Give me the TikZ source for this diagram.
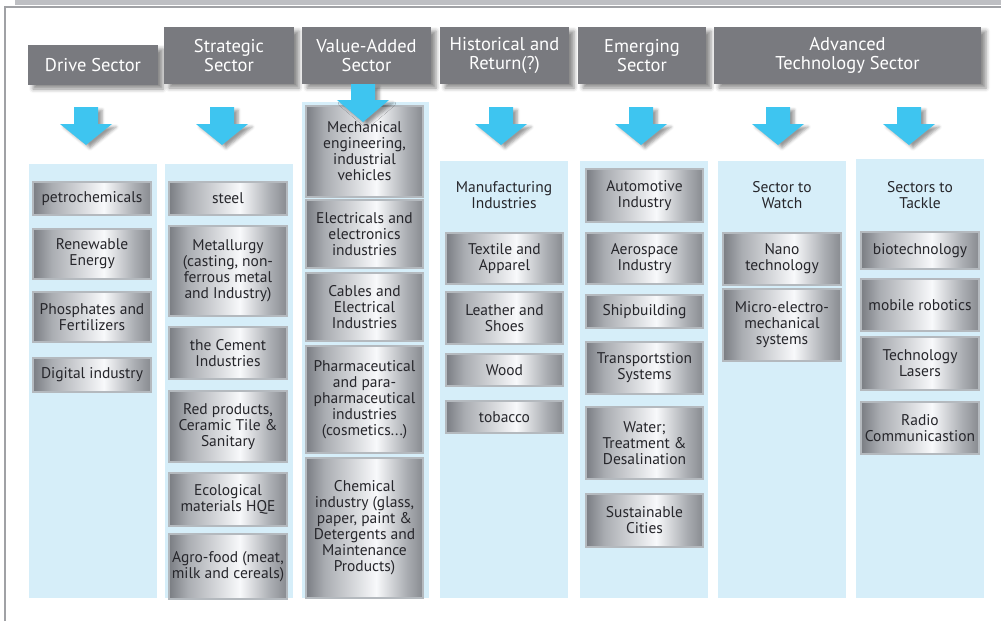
\documentclass[tikz,border=0pt]{standalone}
\usepackage{fontspec}
\setmainfont{PT Sans}
\usetikzlibrary{shadows.blur}
\definecolor{hdr}{RGB}{121,122,127}
\definecolor{pnl}{RGB}{214,238,249}
\definecolor{arr}{RGB}{62,197,240}
\definecolor{mdk}{RGB}{122,125,131}
\definecolor{mmd}{RGB}{170,173,178}
\definecolor{mlt}{RGB}{248,249,251}
\definecolor{mrt}{RGB}{136,139,144}
\definecolor{mbd}{RGB}{180,185,190}
\definecolor{txt}{RGB}{38,38,43}
\definecolor{topbar}{RGB}{190,191,195}
\definecolor{framec}{RGB}{160,161,165}
\pgfdeclarehorizontalshading{metal}{100bp}{color(0bp)=(mdk); color(25bp)=(mdk); color(33bp)=(mmd); color(55bp)=(mlt); color(68bp)=(mmd); color(75bp)=(mrt); color(100bp)=(mrt)}
\tikzset{
  metalbox/.style={shading=metal, draw=mbd, line width=1.6pt, inner sep=0pt, align=center,
    font=\fontsize{15.5}{16}\selectfont, text=txt},
  hdrbox/.style={fill=hdr, text=white, inner sep=0pt, align=center,
    font=\fontsize{18.5}{19}\selectfont,
    blur shadow={shadow xshift=5pt, shadow yshift=-4pt, shadow blur radius=4pt, shadow opacity=45}},
  panelbox/.style={fill=pnl, inner sep=0pt},
  plabel/.style={align=center, font=\fontsize{15.5}{16}\selectfont, text=txt, inner sep=0pt},
  bluearr/.style={fill=arr, blur shadow={shadow xshift=4pt, shadow yshift=-3pt, shadow blur radius=3pt, shadow opacity=40}}
}
\newcommand\rectnode[7]{% style, name, x1, y1, x2, y2, text
  \pgfmathsetmacro\rnw{#5-#3}\pgfmathsetmacro\rnh{#6-#4}%
  \pgfmathsetmacro\rnx{(#3+#5)/2}\pgfmathsetmacro\rny{(#4+#6)/2}%
  \node[#1, minimum width=\rnw pt, minimum height=\rnh pt] (#2) at (\rnx,\rny) {#7};}
\newcommand\bluearrow[5]{% name, cx, top, headstart, tip
  \coordinate (#1) at (#2,#5);
  \fill[bluearr] (#2-12,#3) -- (#2+12,#3) -- (#2+12,#4) -- (#2+26,#4) -- (#1) -- (#2-26,#4) -- (#2-12,#4) -- cycle;}
\begin{document}
\begin{tikzpicture}[x=1pt,y=-1pt]
\useasboundingbox (0,0) rectangle (1001,621);
% top bar and frame
\fill[topbar] (15,0) rectangle (1001,5);
\draw[framec, line width=1.2pt] (5,621) -- (5,7) -- (1001,7);
% panels
\rectnode{panelbox}{p1}{29}{164}{157}{598}{}
\rectnode{panelbox}{p2}{165}{164}{293}{598}{}
\rectnode{panelbox}{p3}{302}{102}{429}{598}{}
\rectnode{panelbox}{p4}{440}{161}{568}{598}{}
\rectnode{panelbox}{p5}{580}{161}{708}{598}{}
\rectnode{panelbox}{p6}{718}{161}{846}{598}{}
\rectnode{panelbox}{p7}{856}{159}{984}{598}{}
% headers
\rectnode{hdrbox}{h1}{28}{45}{158}{85}{Drive Sector}
\rectnode{hdrbox}{h2}{164}{27}{294}{84}{Strategic\\Sector}
\rectnode{hdrbox}{h3}{302}{27}{431}{84}{Value-Added\\Sector}
\rectnode{hdrbox}{h4}{440}{27}{569}{84}{Historical and\\Return(?)}
\rectnode{hdrbox}{h5}{578}{27}{706}{84}{Emerging\\Sector}
\rectnode{hdrbox}{h6}{714}{27}{981}{84}{Advanced\\Technology Sector}
% arrows
\bluearrow{a1}{86}{107}{124}{145}
\bluearrow{a2}{222}{107}{124}{145}
\bluearrow{a4}{501}{107}{124}{145}
\bluearrow{a5}{641}{107}{124}{145}
\bluearrow{a6}{778}{107}{124}{145}
\bluearrow{a7}{909}{107}{124}{145}
% column 1
\rectnode{metalbox}{b11}{33}{182}{151}{215}{petrochemicals}
\rectnode{metalbox}{b12}{33}{229}{151}{279}{Renewable\\Energy}
\rectnode{metalbox}{b13}{33}{292}{151}{342}{Phosphates and\\Fertilizers}
\rectnode{metalbox}{b14}{33}{358}{151}{392}{Digital industry}
% column 2
\rectnode{metalbox}{b21}{169}{182}{287}{215}{steel}
\rectnode{metalbox}{b22}{169}{226}{287}{316}{Metallurgy\\(casting, non-\\ferrous metal\\and Industry)}
\rectnode{metalbox}{b23}{169}{327}{287}{379}{the Cement\\Industries}
\rectnode{metalbox}{b24}{169}{391}{287}{462}{Red products,\\Ceramic Tile \&\\Sanitary}
\rectnode{metalbox}{b25}{169}{473}{287}{526}{Ecological\\materials HQE}
\rectnode{metalbox}{b26}{169}{534}{287}{599}{Agro-food (meat,\\milk and cereals)}
% column 3
\rectnode{metalbox}{b31}{306}{106}{423}{197}{Mechanical\\engineering,\\industrial\\vehicles}
\rectnode{metalbox}{b32}{306}{200}{423}{268}{Electricals and\\electronics\\industries}
\rectnode{metalbox}{b33}{306}{273}{423}{341}{Cables and\\Electrical\\Industries}
\rectnode{metalbox}{b34}{306}{346}{423}{453}{Pharmaceutical\\and para-\\pharmaceutical\\industries\\(cosmetics...)}
\rectnode{metalbox}{b35}{306}{458}{423}{598}{Chemical\\industry (glass,\\paper, paint \&\\Detergents and\\Maintenance\\Products)}
\bluearrow{a3}{363}{84}{100}{122}
% column 4
\node[plabel] (l4) at (504,195) {Manufacturing\\Industries};
\rectnode{metalbox}{b41}{446}{233}{563}{284}{Textile and\\Apparel}
\rectnode{metalbox}{b42}{446}{292}{563}{344}{Leather and\\Shoes}
\rectnode{metalbox}{b43}{446}{354}{563}{386}{Wood}
\rectnode{metalbox}{b44}{446}{401}{563}{433}{tobacco}
% column 5
\rectnode{metalbox}{b51}{586}{169}{703}{222}{Automotive\\Industry}
\rectnode{metalbox}{b52}{586}{233}{703}{284}{Aerospace\\Industry}
\rectnode{metalbox}{b53}{586}{295}{703}{328}{Shipbuilding}
\rectnode{metalbox}{b54}{586}{342}{703}{394}{Transportstion\\Systems}
\rectnode{metalbox}{b55}{586}{407}{703}{479}{Water;\\Treatment \&\\Desalination}
\rectnode{metalbox}{b56}{586}{494}{703}{547}{Sustainable\\Cities}
% column 6
\node[plabel] (l6) at (782,195) {Sector to\\Watch};
\rectnode{metalbox}{b61}{723}{233}{841}{285}{Nano\\technology}
\rectnode{metalbox}{b62}{723}{289}{841}{361}{Micro-electro-\\mechanical\\systems}
% column 7
\node[plabel] (l7) at (920,195) {Sectors to\\Tackle};
\rectnode{metalbox}{b71}{861}{232}{979}{269}{biotechnology}
\rectnode{metalbox}{b72}{861}{279}{979}{331}{mobile robotics}
\rectnode{metalbox}{b73}{861}{337}{979}{390}{Technology\\Lasers}
\rectnode{metalbox}{b74}{861}{402}{979}{454}{Radio\\Communicastion}
\end{tikzpicture}
\end{document}
